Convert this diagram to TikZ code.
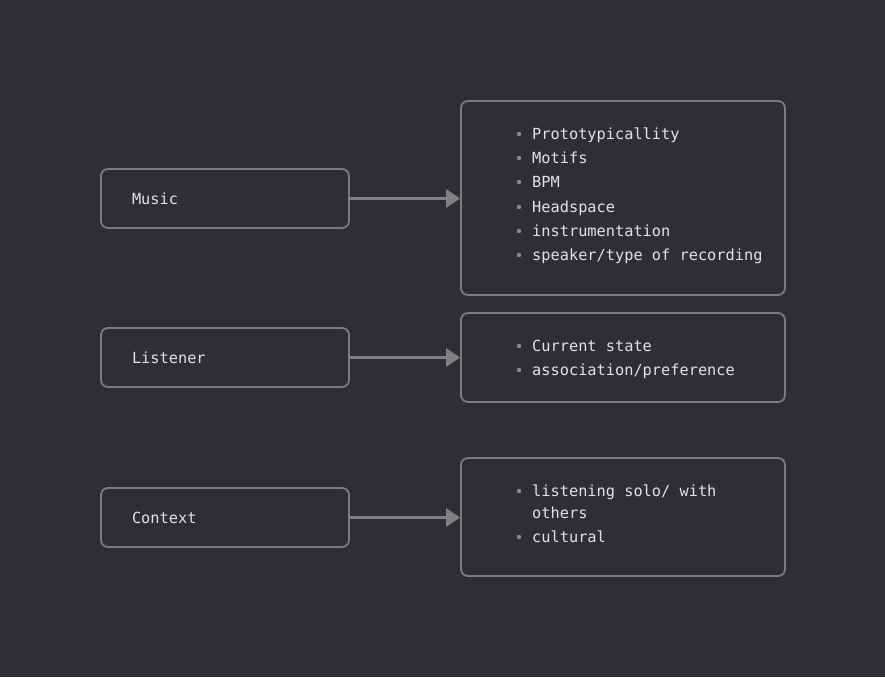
\documentclass[tikz,border=0pt]{standalone}
\usepackage{fontspec}
\setmonofont{DejaVu Sans Mono}
\usepackage{tikz}
\usetikzlibrary{positioning,calc,arrows.meta}

\definecolor{bgdark}{HTML}{2E2F34}
\definecolor{edgegray}{HTML}{7C7C7E}
\definecolor{arrgray}{HTML}{808080}
\definecolor{txtlight}{HTML}{E2E2E2}
\definecolor{dotgray}{HTML}{8A8A8C}

\begin{document}
\begin{tikzpicture}[x=1pt,y=-1pt, font=\ttfamily\fontsize{15.3}{22}\selectfont, line cap=round, line join=round]
				% ===== nền =====
				\fill[bgdark] (0,0) rectangle (885,677);
				\useasboundingbox (0,0) rectangle (885,677);
				
				% ===== style =====
				\tikzset{
					box/.style={draw=edgegray, line width=1.8pt, rounded corners=7pt, text=txtlight},
					lbox/.style={box, minimum width=248pt, minimum height=59pt, text width=186pt, inner xsep=31pt, align=left},
					item/.style={anchor=base west, inner sep=0pt, text=txtlight},
					arr/.style={draw=arrgray, line width=3pt, -{Triangle[length=14pt,width=18pt]}}
				}
				
				% ===== hộp trái =====
				\node[lbox] (music) at (225,198.5) {\raisebox{-1pt}{Music}};
				\node[lbox] (listener) at (225,357.5) {\raisebox{-1pt}{Listener}};
				\node[lbox] (context) at (225,517.5) {\raisebox{-1pt}{Context}};
				
				% ===== hộp phải =====
				\node[box, minimum width=324pt, minimum height=194pt] (musicinfo) at (623,198) {};
				\node[box, minimum width=324pt, minimum height=89pt] (listenerinfo) at (623,357.5) {};
				\node[box, minimum width=324pt, minimum height=118pt] (contextinfo) at (623,517) {};
				
				% ===== mũi tên =====
				\draw[arr] (music.east) -- (music.east -| musicinfo.west);
				\draw[arr] (listener.east) -- (listener.east -| listenerinfo.west);
				\draw[arr] (context.east) -- (context.east -| contextinfo.west);
				
				% ===== các mục =====
				\foreach \y/\t [count=\i] in {139/Prototypicallity, 163/Motifs, 187/BPM, 212/Headspace, 236/instrumentation, 260/{speaker/type of recording},
					351/Current state, 375/{association/preference},
					496/{listening solo/ with}, 542/cultural}{
					\fill[dotgray] (519,\y-5) circle (2.2pt);
					\node[item] (it\i) at (532,\y) {\t};
				}
				\node[item] (it11) at (532,518) {others};
			\end{tikzpicture}
\end{document}
